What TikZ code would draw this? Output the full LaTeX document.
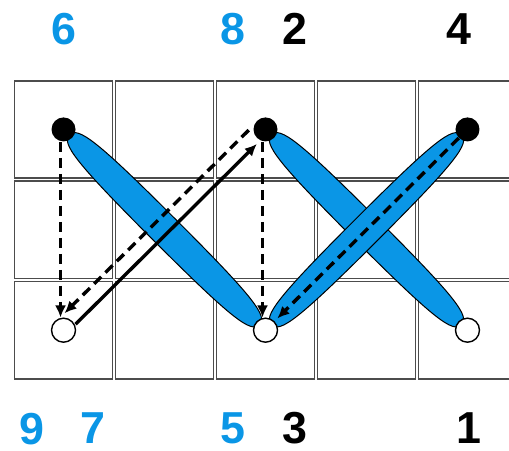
\documentclass[tikz,border=0pt]{standalone}
\usepackage{fontspec}
\setmainfont{Liberation Sans}
\usetikzlibrary{arrows.meta}
\definecolor{stitchblue}{RGB}{10,150,230}

% a full oval, long along x, centred at the origin
\newcommand{\stitchpath}{(1.33,0) .. controls (1.33,0.12) and (1.1,0.152) .. (0,0.152)
    .. controls (-1.1,0.152) and (-1.33,0.12) .. (-1.33,0)
    .. controls (-1.33,-0.12) and (-1.1,-0.152) .. (0,-0.152)
    .. controls (1.1,-0.152) and (1.33,-0.12) .. cycle}

\begin{document}
\begin{tikzpicture}[x=50.5pt,y=50.2pt,
        cell/.style={draw=black!70,line width=0.9pt},
        stitch/.style={fill=stitchblue,draw=black,line width=0.5pt},
        front/.style={circle,fill=black,inner sep=0pt,minimum size=12pt},
        back/.style={circle,draw=black,fill=white,line width=0.7pt,inner sep=0pt,minimum size=12pt},
        move/.style={line width=1.7pt,-{Latex[length=6pt,width=5.5pt]}},
        hidden/.style={move,dash pattern=on 5pt off 3pt},
        num/.style={inner sep=0pt,font=\fontsize{22.4}{24}\selectfont\bfseries},
        bluenum/.style={num,text=stitchblue}]
        \useasboundingbox (-0.129,-0.698) rectangle (4.911,3.789);
        \foreach \i in {0,...,4}
            \foreach \j in {0,1,2}
                \draw[cell] (\i+0.015,\j+0.015) rectangle (\i+0.985,\j+0.985);
        \draw[stitch, shift={(1.5,1.5)}, rotate=-45] \stitchpath;
        \draw[stitch, shift={(3.5,1.5)}, rotate=-45] \stitchpath;
        \draw[stitch, shift={(3.5,1.5)}, rotate=45] \stitchpath;
        \node[front] (A) at (0.5,2.5) {};
        \node[front] (B) at (2.5,2.5) {};
        \node[front] (C) at (4.5,2.5) {};
        \node[back] (D) at (0.5,0.5) {};
        \node[back] (E) at (2.5,0.5) {};
        \node[back] (F) at (4.5,0.5) {};
        \draw[hidden, transform canvas={xshift=-1.5pt}] (A) -- (D);
        \draw[move, shorten >=2pt, transform canvas={shift={(1.5pt,-1.5pt)}}] (D) -- (B);
        \draw[hidden, transform canvas={shift={(-4pt,4pt)}}] (B) -- (D);
        \draw[hidden, transform canvas={xshift=-1.5pt}] (B) -- (E);
        \draw[hidden, shorten >=2pt] (C) -- (E);
        \node[bluenum] (n6) at (0.5,3.5) {6};
        \node[bluenum] (n8) at (2.18,3.5) {8};
        \node[num] (n2) at (2.79,3.5) {2};
        \node[num] (n4) at (4.42,3.5) {4};
        \node[bluenum] (n9) at (0.19,-0.48) {9};
        \node[bluenum] (n7) at (0.79,-0.48) {7};
        \node[bluenum] (n5) at (2.18,-0.48) {5};
        \node[num] (n3) at (2.79,-0.48) {3};
        \node[num] (n1) at (4.51,-0.48) {1};
\end{tikzpicture}
\end{document}
